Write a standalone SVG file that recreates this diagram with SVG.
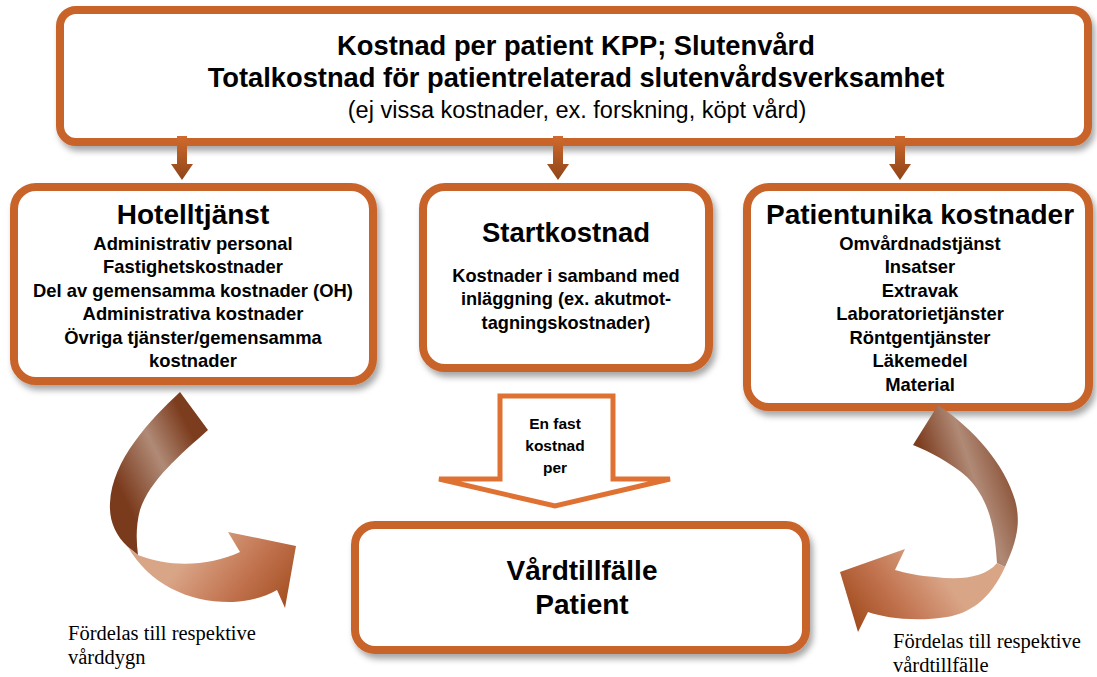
<svg xmlns="http://www.w3.org/2000/svg" width="1097" height="677" viewBox="0 0 1097 677">
<defs>
<filter id="sh" x="-10%" y="-10%" width="120%" height="130%">
<feDropShadow dx="3" dy="5" stdDeviation="3" flood-color="#000" flood-opacity="0.35"/>
</filter>
<linearGradient id="smallArr" x1="0" y1="0" x2="0" y2="1">
<stop offset="0" stop-color="#D06A2E"/>
<stop offset="1" stop-color="#8E4418"/>
</linearGradient>
<linearGradient id="lv" gradientUnits="userSpaceOnUse" x1="115" y1="480" x2="195" y2="440">
<stop offset="0" stop-color="#7A3A1C"/>
<stop offset="0.55" stop-color="#B08A76"/>
<stop offset="1" stop-color="#7C3C1E"/>
</linearGradient>
<linearGradient id="lh" gradientUnits="userSpaceOnUse" x1="200" y1="540" x2="290" y2="610">
<stop offset="0" stop-color="#D9A587"/>
<stop offset="0.5" stop-color="#C27450"/>
<stop offset="1" stop-color="#A24C1E"/>
</linearGradient>
<linearGradient id="rv" gradientUnits="userSpaceOnUse" x1="930" y1="480" x2="1020" y2="450">
<stop offset="0" stop-color="#7C3C1E"/>
<stop offset="0.45" stop-color="#B08A76"/>
<stop offset="1" stop-color="#7A3A1C"/>
</linearGradient>
<linearGradient id="rh" gradientUnits="userSpaceOnUse" x1="930" y1="560" x2="850" y2="620">
<stop offset="0" stop-color="#D9A587"/>
<stop offset="0.5" stop-color="#C27450"/>
<stop offset="1" stop-color="#A24C1E"/>
</linearGradient>
</defs>
<style>
.box{fill:#fff;stroke:#C8642C;stroke-width:8;filter:url(#sh)}
.t{font-family:"Liberation Sans",Arial,sans-serif;font-weight:bold;fill:#000;text-anchor:middle}
.r{font-family:"Liberation Sans",Arial,sans-serif;fill:#000;text-anchor:middle}
.s{font-family:"Liberation Serif","Times New Roman",serif;fill:#000;font-size:20.5px}
.sa{fill:url(#smallArr)}
</style>

<g id="top">
<rect class="box" x="60" y="10" width="1028" height="132" rx="16"/>
<text class="t" x="576" y="55" font-size="27.3">Kostnad per patient KPP; Slutenvård</text>
<text class="t" x="576" y="87" font-size="27.3">Totalkostnad för patientrelaterad slutenvårdsverksamhet</text>
<text class="r" x="577" y="118" font-size="23.5">(ej vissa kostnader, ex. forskning, köpt vård)</text>
</g>

<g id="hotell">
<rect class="box" x="14" y="187" width="359" height="194" rx="22"/>
<text class="t" x="193" y="224" font-size="28">Hotelltjänst</text>
<text class="t" x="193" y="250" font-size="18.4">Administrativ personal</text>
<text class="t" x="193" y="273" font-size="18.4">Fastighetskostnader</text>
<text class="t" x="193" y="297" font-size="18.4">Del av gemensamma kostnader (OH)</text>
<text class="t" x="193" y="320" font-size="18.4">Administrativa kostnader</text>
<text class="t" x="193" y="344" font-size="18.4">Övriga tjänster/gemensamma</text>
<text class="t" x="193" y="367" font-size="18.4">kostnader</text>
</g>

<g id="start">
<rect class="box" x="423" y="187" width="286" height="181" rx="22"/>
<text class="t" x="566" y="242" font-size="27.5">Startkostnad</text>
<text class="t" x="566" y="282" font-size="18.2">Kostnader i samband med</text>
<text class="t" x="566" y="305" font-size="18.2">inläggning (ex. akutmot-</text>
<text class="t" x="566" y="329" font-size="18.2">tagningskostnader)</text>
</g>

<g id="patientunika">
<rect class="box" x="747" y="187" width="342" height="220" rx="22"/>
<text class="t" x="920" y="224" font-size="28">Patientunika kostnader</text>
<text class="t" x="920" y="250" font-size="18.4">Omvårdnadstjänst</text>
<text class="t" x="920" y="273" font-size="18.4">Insatser</text>
<text class="t" x="920" y="297" font-size="18.4">Extravak</text>
<text class="t" x="920" y="320" font-size="18.4">Laboratorietjänster</text>
<text class="t" x="920" y="344" font-size="18.4">Röntgentjänster</text>
<text class="t" x="920" y="367" font-size="18.4">Läkemedel</text>
<text class="t" x="920" y="391" font-size="18.4">Material</text>
</g>

<g id="vardtillfalle">
<rect class="box" x="355" y="525" width="451" height="125" rx="20"/>
<text class="t" x="582" y="580" font-size="28">Vårdtillfälle</text>
<text class="t" x="582" y="614" font-size="28">Patient</text>
</g>

<g id="fast-kostnad">
<path d="M500,396 L613,396 L613,479 L670,479 L555,506 L439,479 L500,479 Z" fill="#fff" stroke="#DF7233" stroke-width="5" stroke-linejoin="miter"/>
<text class="t" x="555" y="429" font-size="15.5">En fast</text>
<text class="t" x="555" y="451" font-size="15.5">kostnad</text>
<text class="t" x="555" y="473" font-size="15.5">per</text>
</g>

<g id="connectors">
<path class="sa" d="M177,136 L187,136 L187,164 L193,164 L182,180 L171,164 L177,164 Z"/>
<path class="sa" d="M553,136 L563,136 L563,164 L569,164 L558,180 L547,164 L553,164 Z"/>
<path class="sa" d="M895,136 L905,136 L905,164 L911,164 L900,180 L889,164 L895,164 Z"/>

<path fill="url(#lv)" d="M180,392 L208,430 C180,455 150,480 140,510 C136,525 136,540 138,555 L128,547 C115,535 109,520 110,503 C112,460 150,420 180,392 Z"/>
<path fill="url(#lh)" d="M128,547 L138,555 C170,568 210,566 240,552 L228,532 L296,546 L285,608 L277,590 C265,597 250,601 233,602 C190,603 150,585 128,547 Z"/>

<path fill="url(#rv)" d="M938,405 C975,430 1005,465 1015,500 C1022,525 1015,545 1005,567 L997,563 C995,530 990,500 967,477 C950,462 930,452 913,445 Z"/>
<path fill="url(#rh)" d="M997,563 C985,578 960,580 935,577 C920,576 905,573 895,570 L905,549 L840,572 L858,632 L868,612 C885,618 915,622 947,617 C970,613 990,600 1005,567 Z"/>
</g>

<g id="labels">
<text class="s" x="68" y="640">Fördelas till respektive</text>
<text class="s" x="68" y="664">vårddygn</text>
<text class="s" x="893" y="648">Fördelas till respektive</text>
<text class="s" x="893" y="672">vårdtillfälle</text>
</g>
</svg>
